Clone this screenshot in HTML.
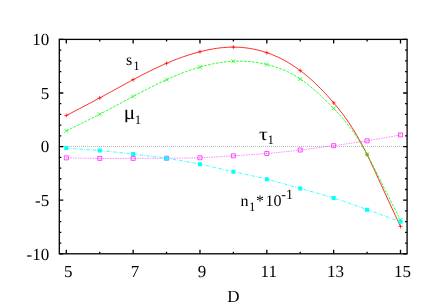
<!DOCTYPE html>
<html><head><meta charset="utf-8"><title>plot</title>
<style>html,body{margin:0;padding:0;background:#fff;}svg{display:block;}</style>
</head><body>
<svg width="436" height="305" viewBox="0 0 436 305" style="will-change:transform">
<rect width="436" height="305" fill="#fff"/>
<path d="M59.3,146.4 H407.1" stroke="#000" stroke-opacity="0.62" stroke-width="0.7" stroke-dasharray="0.67 1.33" fill="none"/>
<path d="M59.3,253.80h4.0M407.1,253.80h-4.0M59.3,243.08h2.0M407.1,243.08h-2.0M59.3,232.36h2.0M407.1,232.36h-2.0M59.3,221.64h2.0M407.1,221.64h-2.0M59.3,210.92h2.0M407.1,210.92h-2.0M59.3,200.20h4.0M407.1,200.20h-4.0M59.3,189.48h2.0M407.1,189.48h-2.0M59.3,178.76h2.0M407.1,178.76h-2.0M59.3,168.04h2.0M407.1,168.04h-2.0M59.3,157.32h2.0M407.1,157.32h-2.0M59.3,146.60h4.0M407.1,146.60h-4.0M59.3,135.88h2.0M407.1,135.88h-2.0M59.3,125.16h2.0M407.1,125.16h-2.0M59.3,114.44h2.0M407.1,114.44h-2.0M59.3,103.72h2.0M407.1,103.72h-2.0M59.3,93.00h4.0M407.1,93.00h-4.0M59.3,82.28h2.0M407.1,82.28h-2.0M59.3,71.56h2.0M407.1,71.56h-2.0M59.3,60.84h2.0M407.1,60.84h-2.0M59.3,50.12h2.0M407.1,50.12h-2.0M59.3,39.40h4.0M407.1,39.40h-4.0M66.30,253.8v-4.0M66.30,39.4v4.0M99.72,253.8v-2.0M99.72,39.4v2.0M133.14,253.8v-4.0M133.14,39.4v4.0M166.56,253.8v-2.0M166.56,39.4v2.0M199.98,253.8v-4.0M199.98,39.4v4.0M233.40,253.8v-2.0M233.40,39.4v2.0M266.82,253.8v-4.0M266.82,39.4v4.0M300.24,253.8v-2.0M300.24,39.4v2.0M333.66,253.8v-4.0M333.66,39.4v4.0M367.08,253.8v-2.0M367.08,39.4v2.0M400.50,253.8v-4.0M400.50,39.4v4.0" stroke="#000" stroke-width="1.3" fill="none"/>
<rect x="59.3" y="39.4" width="347.80" height="214.40" stroke="#000" stroke-width="1.3" fill="none"/>
<g font-family="Liberation Serif" font-size="16" fill="#000" text-rendering="geometricPrecision">
<text x="49.2" y="259.60" text-anchor="end" font-size="17">-10</text>
<text x="49.2" y="206.00" text-anchor="end" font-size="17">-5</text>
<text x="49.2" y="152.40" text-anchor="end" font-size="17">0</text>
<text x="49.2" y="98.80" text-anchor="end" font-size="17">5</text>
<text x="49.2" y="45.20" text-anchor="end" font-size="17">10</text>
<text x="68.20" y="276.9" text-anchor="middle" font-size="17">5</text>
<text x="135.04" y="276.9" text-anchor="middle" font-size="17">7</text>
<text x="201.88" y="276.9" text-anchor="middle" font-size="17">9</text>
<text x="268.72" y="276.9" text-anchor="middle" font-size="17">11</text>
<text x="335.56" y="276.9" text-anchor="middle" font-size="17">13</text>
<text x="402.40" y="276.9" text-anchor="middle" font-size="17">15</text>
<text x="233.3" y="301.5" text-anchor="middle" font-size="17">D</text>
<text x="126.0" y="64.8">s</text><text x="133.3" y="69.6" font-size="12.8">1</text>
<clipPath id="cm"><rect x="120" y="100" width="20" height="22.2"/></clipPath><g clip-path="url(#cm)"><text transform="translate(123.7,118.5) scale(1.06,1)" font-size="20">μ</text></g><text x="134.7" y="123.5" font-size="12.8">1</text>
<text transform="translate(259.0,139.8) scale(1.2,1)" font-size="18">τ</text><text x="267.5" y="144.4" font-size="12.8">1</text>
<text x="240.5" y="205.5">n</text><text x="249.1" y="210.6" font-size="12.8">1</text><text x="255.9" y="205.5">*</text><text x="265.4" y="205.5">10</text><text x="281.3" y="199.3" font-size="14">-1</text>
</g>
<path d="M66.30,115.51 L67.97,114.64 L69.64,113.78 L71.31,112.91 L72.98,112.04 L74.66,111.17 L76.33,110.30 L78.00,109.43 L79.67,108.56 L81.34,107.69 L83.01,106.81 L84.68,105.93 L86.35,105.05 L88.02,104.17 L89.69,103.29 L91.36,102.40 L93.04,101.52 L94.71,100.62 L96.38,99.73 L98.05,98.83 L99.72,97.93 L101.39,97.03 L103.06,96.12 L104.73,95.21 L106.40,94.30 L108.08,93.38 L109.75,92.47 L111.42,91.55 L113.09,90.63 L114.76,89.71 L116.43,88.80 L118.10,87.88 L119.77,86.96 L121.44,86.05 L123.11,85.13 L124.78,84.22 L126.46,83.31 L128.13,82.40 L129.80,81.50 L131.47,80.60 L133.14,79.71 L134.81,78.82 L136.48,77.93 L138.15,77.05 L139.82,76.18 L141.50,75.31 L143.17,74.44 L144.84,73.59 L146.51,72.74 L148.18,71.90 L149.85,71.07 L151.52,70.25 L153.19,69.44 L154.86,68.63 L156.53,67.84 L158.20,67.05 L159.88,66.28 L161.55,65.52 L163.22,64.77 L164.89,64.03 L166.56,63.31 L168.23,62.59 L169.90,61.89 L171.57,61.21 L173.24,60.53 L174.92,59.88 L176.59,59.23 L178.26,58.60 L179.93,57.98 L181.60,57.38 L183.27,56.79 L184.94,56.21 L186.61,55.65 L188.28,55.11 L189.95,54.58 L191.62,54.07 L193.30,53.57 L194.97,53.08 L196.64,52.62 L198.31,52.16 L199.98,51.73 L201.65,51.31 L203.32,50.91 L204.99,50.52 L206.66,50.15 L208.33,49.80 L210.01,49.47 L211.68,49.16 L213.35,48.87 L215.02,48.60 L216.69,48.35 L218.36,48.12 L220.03,47.92 L221.70,47.73 L223.37,47.57 L225.05,47.43 L226.72,47.32 L228.39,47.23 L230.06,47.17 L231.73,47.13 L233.40,47.12 L235.07,47.13 L236.74,47.17 L238.41,47.24 L240.08,47.34 L241.75,47.46 L243.43,47.61 L245.10,47.79 L246.77,47.99 L248.44,48.23 L250.11,48.49 L251.78,48.78 L253.45,49.10 L255.12,49.45 L256.79,49.82 L258.47,50.23 L260.14,50.66 L261.81,51.12 L263.48,51.62 L265.15,52.14 L266.82,52.69 L268.49,53.28 L270.16,53.89 L271.83,54.53 L273.50,55.21 L275.18,55.91 L276.85,56.65 L278.52,57.42 L280.19,58.23 L281.86,59.07 L283.53,59.94 L285.20,60.84 L286.87,61.78 L288.54,62.76 L290.21,63.77 L291.88,64.81 L293.56,65.90 L295.23,67.01 L296.90,68.17 L298.57,69.36 L300.24,70.60 L301.91,71.86 L303.58,73.17 L305.25,74.52 L306.92,75.90 L308.60,77.32 L310.27,78.78 L311.94,80.27 L313.61,81.80 L315.28,83.36 L316.95,84.97 L318.62,86.60 L320.29,88.27 L321.96,89.98 L323.63,91.72 L325.31,93.49 L326.98,95.30 L328.65,97.14 L330.32,99.02 L331.99,100.92 L333.66,102.86 L335.33,104.84 L337.00,106.85 L338.67,108.90 L340.34,111.00 L342.02,113.16 L343.69,115.37 L345.36,117.66 L347.03,120.01 L348.70,122.44 L350.37,124.95 L352.04,127.54 L353.71,130.22 L355.38,132.99 L357.05,135.84 L358.73,138.77 L360.40,141.79 L362.07,144.88 L363.74,148.06 L365.41,151.31 L367.08,154.64 L368.75,158.05 L370.42,161.52 L372.09,165.05 L373.76,168.62 L375.44,172.24 L377.11,175.88 L378.78,179.54 L380.45,183.22 L382.12,186.89 L383.79,190.55 L385.46,194.20 L387.13,197.83 L388.80,201.44 L390.47,205.04 L392.15,208.63 L393.82,212.21 L395.49,215.78 L397.16,219.34 L398.83,222.90 L400.50,226.46" stroke="#ff0000" stroke-width="0.85" fill="none"/>
<path d="M64.30,115.51h4.00M66.30,113.51v4.00M97.72,97.93h4.00M99.72,95.93v4.00M131.14,79.71h4.00M133.14,77.71v4.00M164.56,63.31h4.00M166.56,61.31v4.00M197.98,51.73h4.00M199.98,49.73v4.00M231.40,47.12h4.00M233.40,45.12v4.00M264.82,52.69h4.00M266.82,50.69v4.00M298.24,70.60h4.00M300.24,68.60v4.00M331.66,102.86h4.00M333.66,100.86v4.00M365.08,154.64h4.00M367.08,152.64v4.00M398.50,226.46h4.00M400.50,224.46v4.00" stroke="#ff0000" stroke-width="0.7" fill="none"/>
<path d="M66.30,130.95 L67.97,130.13 L69.64,129.31 L71.31,128.49 L72.98,127.66 L74.66,126.84 L76.33,126.02 L78.00,125.19 L79.67,124.36 L81.34,123.54 L83.01,122.70 L84.68,121.87 L86.35,121.03 L88.02,120.20 L89.69,119.35 L91.36,118.51 L93.04,117.66 L94.71,116.81 L96.38,115.95 L98.05,115.09 L99.72,114.23 L101.39,113.36 L103.06,112.48 L104.73,111.60 L106.40,110.72 L108.08,109.84 L109.75,108.95 L111.42,108.06 L113.09,107.17 L114.76,106.27 L116.43,105.38 L118.10,104.48 L119.77,103.59 L121.44,102.69 L123.11,101.79 L124.78,100.89 L126.46,100.00 L128.13,99.10 L129.80,98.21 L131.47,97.32 L133.14,96.43 L134.81,95.54 L136.48,94.66 L138.15,93.78 L139.82,92.90 L141.50,92.03 L143.17,91.16 L144.84,90.30 L146.51,89.44 L148.18,88.59 L149.85,87.75 L151.52,86.91 L153.19,86.07 L154.86,85.25 L156.53,84.43 L158.20,83.62 L159.88,82.82 L161.55,82.03 L163.22,81.24 L164.89,80.47 L166.56,79.71 L168.23,78.95 L169.90,78.21 L171.57,77.48 L173.24,76.76 L174.92,76.05 L176.59,75.35 L178.26,74.67 L179.93,74.00 L181.60,73.34 L183.27,72.69 L184.94,72.06 L186.61,71.44 L188.28,70.84 L189.95,70.25 L191.62,69.68 L193.30,69.12 L194.97,68.58 L196.64,68.06 L198.31,67.55 L199.98,67.06 L201.65,66.58 L203.32,66.13 L204.99,65.69 L206.66,65.27 L208.33,64.87 L210.01,64.49 L211.68,64.12 L213.35,63.78 L215.02,63.45 L216.69,63.15 L218.36,62.86 L220.03,62.60 L221.70,62.36 L223.37,62.14 L225.05,61.94 L226.72,61.76 L228.39,61.60 L230.06,61.47 L231.73,61.36 L233.40,61.27 L235.07,61.20 L236.74,61.16 L238.41,61.14 L240.08,61.15 L241.75,61.18 L243.43,61.23 L245.10,61.31 L246.77,61.41 L248.44,61.53 L250.11,61.68 L251.78,61.85 L253.45,62.04 L255.12,62.26 L256.79,62.51 L258.47,62.78 L260.14,63.07 L261.81,63.39 L263.48,63.73 L265.15,64.09 L266.82,64.48 L268.49,64.90 L270.16,65.34 L271.83,65.81 L273.50,66.31 L275.18,66.83 L276.85,67.39 L278.52,67.98 L280.19,68.60 L281.86,69.25 L283.53,69.94 L285.20,70.66 L286.87,71.42 L288.54,72.22 L290.21,73.06 L291.88,73.93 L293.56,74.85 L295.23,75.81 L296.90,76.81 L298.57,77.86 L300.24,78.96 L301.91,80.10 L303.58,81.28 L305.25,82.51 L306.92,83.78 L308.60,85.09 L310.27,86.44 L311.94,87.83 L313.61,89.25 L315.28,90.71 L316.95,92.20 L318.62,93.72 L320.29,95.27 L321.96,96.85 L323.63,98.45 L325.31,100.08 L326.98,101.73 L328.65,103.41 L330.32,105.10 L331.99,106.81 L333.66,108.54 L335.33,110.29 L337.00,112.06 L338.67,113.86 L340.34,115.69 L342.02,117.57 L343.69,119.50 L345.36,121.48 L347.03,123.53 L348.70,125.65 L350.37,127.84 L352.04,130.12 L353.71,132.48 L355.38,134.92 L357.05,137.45 L358.73,140.06 L360.40,142.75 L362.07,145.52 L363.74,148.37 L365.41,151.30 L367.08,154.32 L368.75,157.41 L370.42,160.57 L372.09,163.79 L373.76,167.06 L375.44,170.37 L377.11,173.71 L378.78,177.07 L380.45,180.44 L382.12,183.81 L383.79,187.18 L385.46,190.52 L387.13,193.84 L388.80,197.15 L390.47,200.45 L392.15,203.73 L393.82,207.00 L395.49,210.27 L397.16,213.52 L398.83,216.78 L400.50,220.03" stroke="#00ff00" stroke-width="0.85" fill="none" stroke-dasharray="2.68 1.34"/>
<path d="M64.30,128.95l4.00,4.00M64.30,132.95l4.00,-4.00M97.72,112.23l4.00,4.00M97.72,116.23l4.00,-4.00M131.14,94.43l4.00,4.00M131.14,98.43l4.00,-4.00M164.56,77.71l4.00,4.00M164.56,81.71l4.00,-4.00M197.98,65.06l4.00,4.00M197.98,69.06l4.00,-4.00M231.40,59.27l4.00,4.00M231.40,63.27l4.00,-4.00M264.82,62.48l4.00,4.00M264.82,66.48l4.00,-4.00M298.24,76.96l4.00,4.00M298.24,80.96l4.00,-4.00M331.66,106.54l4.00,4.00M331.66,110.54l4.00,-4.00M365.08,152.32l4.00,4.00M365.08,156.32l4.00,-4.00M398.50,218.03l4.00,4.00M398.50,222.03l4.00,-4.00" stroke="#00ff00" stroke-width="0.7" fill="none"/>
<path d="M66.30,157.86 L67.97,157.89 L69.64,157.92 L71.31,157.95 L72.98,157.99 L74.66,158.02 L76.33,158.05 L78.00,158.08 L79.67,158.11 L81.34,158.14 L83.01,158.17 L84.68,158.20 L86.35,158.23 L88.02,158.25 L89.69,158.28 L91.36,158.30 L93.04,158.32 L94.71,158.34 L96.38,158.36 L98.05,158.38 L99.72,158.39 L101.39,158.41 L103.06,158.42 L104.73,158.43 L106.40,158.43 L108.08,158.44 L109.75,158.45 L111.42,158.45 L113.09,158.45 L114.76,158.45 L116.43,158.45 L118.10,158.45 L119.77,158.45 L121.44,158.44 L123.11,158.44 L124.78,158.43 L126.46,158.43 L128.13,158.42 L129.80,158.41 L131.47,158.40 L133.14,158.39 L134.81,158.38 L136.48,158.37 L138.15,158.36 L139.82,158.35 L141.50,158.34 L143.17,158.33 L144.84,158.31 L146.51,158.30 L148.18,158.29 L149.85,158.28 L151.52,158.27 L153.19,158.25 L154.86,158.24 L156.53,158.23 L158.20,158.22 L159.88,158.21 L161.55,158.20 L163.22,158.19 L164.89,158.18 L166.56,158.18 L168.23,158.17 L169.90,158.16 L171.57,158.16 L173.24,158.15 L174.92,158.15 L176.59,158.14 L178.26,158.13 L179.93,158.12 L181.60,158.11 L183.27,158.09 L184.94,158.08 L186.61,158.06 L188.28,158.03 L189.95,158.01 L191.62,157.97 L193.30,157.94 L194.97,157.90 L196.64,157.85 L198.31,157.80 L199.98,157.75 L201.65,157.69 L203.32,157.62 L204.99,157.55 L206.66,157.47 L208.33,157.39 L210.01,157.30 L211.68,157.21 L213.35,157.11 L215.02,157.02 L216.69,156.92 L218.36,156.81 L220.03,156.71 L221.70,156.60 L223.37,156.49 L225.05,156.38 L226.72,156.27 L228.39,156.16 L230.06,156.04 L231.73,155.93 L233.40,155.82 L235.07,155.71 L236.74,155.60 L238.41,155.49 L240.08,155.38 L241.75,155.27 L243.43,155.16 L245.10,155.05 L246.77,154.93 L248.44,154.82 L250.11,154.71 L251.78,154.59 L253.45,154.48 L255.12,154.36 L256.79,154.24 L258.47,154.12 L260.14,153.99 L261.81,153.86 L263.48,153.73 L265.15,153.60 L266.82,153.46 L268.49,153.32 L270.16,153.18 L271.83,153.03 L273.50,152.88 L275.18,152.72 L276.85,152.57 L278.52,152.40 L280.19,152.24 L281.86,152.07 L283.53,151.90 L285.20,151.73 L286.87,151.55 L288.54,151.37 L290.21,151.19 L291.88,151.00 L293.56,150.81 L295.23,150.62 L296.90,150.43 L298.57,150.23 L300.24,150.03 L301.91,149.83 L303.58,149.62 L305.25,149.41 L306.92,149.20 L308.60,148.99 L310.27,148.78 L311.94,148.56 L313.61,148.34 L315.28,148.12 L316.95,147.90 L318.62,147.68 L320.29,147.45 L321.96,147.23 L323.63,147.00 L325.31,146.78 L326.98,146.55 L328.65,146.32 L330.32,146.09 L331.99,145.86 L333.66,145.64 L335.33,145.41 L337.00,145.18 L338.67,144.95 L340.34,144.72 L342.02,144.49 L343.69,144.26 L345.36,144.03 L347.03,143.79 L348.70,143.56 L350.37,143.32 L352.04,143.08 L353.71,142.84 L355.38,142.60 L357.05,142.35 L358.73,142.10 L360.40,141.85 L362.07,141.60 L363.74,141.34 L365.41,141.08 L367.08,140.81 L368.75,140.54 L370.42,140.27 L372.09,139.99 L373.76,139.71 L375.44,139.43 L377.11,139.14 L378.78,138.85 L380.45,138.56 L382.12,138.26 L383.79,137.96 L385.46,137.67 L387.13,137.36 L388.80,137.06 L390.47,136.76 L392.15,136.45 L393.82,136.15 L395.49,135.84 L397.16,135.53 L398.83,135.22 L400.50,134.92" stroke="#ff00ff" stroke-width="0.7" fill="none" stroke-dasharray="0.67 1.01"/>
<path d="M64.30,155.86h4.00v4.00h-4.00zM66.00,157.86h0.6M97.72,156.39h4.00v4.00h-4.00zM99.42,158.39h0.6M131.14,156.39h4.00v4.00h-4.00zM132.84,158.39h0.6M164.56,156.18h4.00v4.00h-4.00zM166.26,158.18h0.6M197.98,155.75h4.00v4.00h-4.00zM199.68,157.75h0.6M231.40,153.82h4.00v4.00h-4.00zM233.10,155.82h0.6M264.82,151.46h4.00v4.00h-4.00zM266.52,153.46h0.6M298.24,148.03h4.00v4.00h-4.00zM299.94,150.03h0.6M331.66,143.64h4.00v4.00h-4.00zM333.36,145.64h0.6M365.08,138.81h4.00v4.00h-4.00zM366.78,140.81h0.6M398.50,132.92h4.00v4.00h-4.00zM400.20,134.92h0.6" stroke="#ff00ff" stroke-width="0.7" fill="none"/>
<path d="M66.30,148.10 L67.97,148.21 L69.64,148.32 L71.31,148.43 L72.98,148.55 L74.66,148.66 L76.33,148.77 L78.00,148.89 L79.67,149.00 L81.34,149.12 L83.01,149.24 L84.68,149.36 L86.35,149.48 L88.02,149.61 L89.69,149.74 L91.36,149.87 L93.04,150.00 L94.71,150.14 L96.38,150.28 L98.05,150.42 L99.72,150.57 L101.39,150.72 L103.06,150.87 L104.73,151.03 L106.40,151.19 L108.08,151.35 L109.75,151.52 L111.42,151.69 L113.09,151.86 L114.76,152.04 L116.43,152.22 L118.10,152.40 L119.77,152.58 L121.44,152.77 L123.11,152.95 L124.78,153.14 L126.46,153.33 L128.13,153.52 L129.80,153.71 L131.47,153.91 L133.14,154.10 L134.81,154.30 L136.48,154.50 L138.15,154.70 L139.82,154.90 L141.50,155.10 L143.17,155.30 L144.84,155.50 L146.51,155.71 L148.18,155.92 L149.85,156.13 L151.52,156.34 L153.19,156.56 L154.86,156.78 L156.53,157.00 L158.20,157.22 L159.88,157.45 L161.55,157.68 L163.22,157.91 L164.89,158.15 L166.56,158.39 L168.23,158.64 L169.90,158.89 L171.57,159.14 L173.24,159.40 L174.92,159.66 L176.59,159.92 L178.26,160.19 L179.93,160.47 L181.60,160.75 L183.27,161.03 L184.94,161.32 L186.61,161.62 L188.28,161.92 L189.95,162.22 L191.62,162.53 L193.30,162.85 L194.97,163.18 L196.64,163.50 L198.31,163.84 L199.98,164.18 L201.65,164.53 L203.32,164.88 L204.99,165.24 L206.66,165.60 L208.33,165.97 L210.01,166.35 L211.68,166.72 L213.35,167.10 L215.02,167.48 L216.69,167.86 L218.36,168.25 L220.03,168.63 L221.70,169.02 L223.37,169.40 L225.05,169.79 L226.72,170.17 L228.39,170.55 L230.06,170.93 L231.73,171.31 L233.40,171.68 L235.07,172.06 L236.74,172.42 L238.41,172.79 L240.08,173.15 L241.75,173.52 L243.43,173.88 L245.10,174.24 L246.77,174.60 L248.44,174.96 L250.11,175.33 L251.78,175.70 L253.45,176.06 L255.12,176.44 L256.79,176.81 L258.47,177.20 L260.14,177.58 L261.81,177.97 L263.48,178.37 L265.15,178.78 L266.82,179.19 L268.49,179.61 L270.16,180.04 L271.83,180.47 L273.50,180.91 L275.18,181.36 L276.85,181.81 L278.52,182.27 L280.19,182.73 L281.86,183.19 L283.53,183.66 L285.20,184.13 L286.87,184.60 L288.54,185.08 L290.21,185.55 L291.88,186.03 L293.56,186.51 L295.23,186.98 L296.90,187.46 L298.57,187.94 L300.24,188.41 L301.91,188.88 L303.58,189.35 L305.25,189.82 L306.92,190.28 L308.60,190.75 L310.27,191.22 L311.94,191.68 L313.61,192.15 L315.28,192.62 L316.95,193.09 L318.62,193.57 L320.29,194.05 L321.96,194.53 L323.63,195.02 L325.31,195.51 L326.98,196.01 L328.65,196.51 L330.32,197.02 L331.99,197.53 L333.66,198.06 L335.33,198.59 L337.00,199.12 L338.67,199.67 L340.34,200.22 L342.02,200.78 L343.69,201.34 L345.36,201.91 L347.03,202.49 L348.70,203.06 L350.37,203.65 L352.04,204.24 L353.71,204.83 L355.38,205.42 L357.05,206.02 L358.73,206.62 L360.40,207.22 L362.07,207.82 L363.74,208.42 L365.41,209.03 L367.08,209.63 L368.75,210.24 L370.42,210.84 L372.09,211.45 L373.76,212.06 L375.44,212.66 L377.11,213.27 L378.78,213.87 L380.45,214.48 L382.12,215.08 L383.79,215.69 L385.46,216.29 L387.13,216.90 L388.80,217.51 L390.47,218.11 L392.15,218.72 L393.82,219.32 L395.49,219.93 L397.16,220.54 L398.83,221.14 L400.50,221.75" stroke="#00ffff" stroke-width="0.8" fill="none" stroke-dasharray="3.35 1.34 0.67 1.34"/>
<path d="M64.30,146.10h4.00v4.00h-4.00zM97.72,148.57h4.00v4.00h-4.00zM131.14,152.10h4.00v4.00h-4.00zM164.56,156.39h4.00v4.00h-4.00zM197.98,162.18h4.00v4.00h-4.00zM231.40,169.68h4.00v4.00h-4.00zM264.82,177.19h4.00v4.00h-4.00zM298.24,186.41h4.00v4.00h-4.00zM331.66,196.06h4.00v4.00h-4.00zM365.08,207.63h4.00v4.00h-4.00zM398.50,219.75h4.00v4.00h-4.00z" stroke="none" fill="#00ffff"/>
</svg>
</body></html>
